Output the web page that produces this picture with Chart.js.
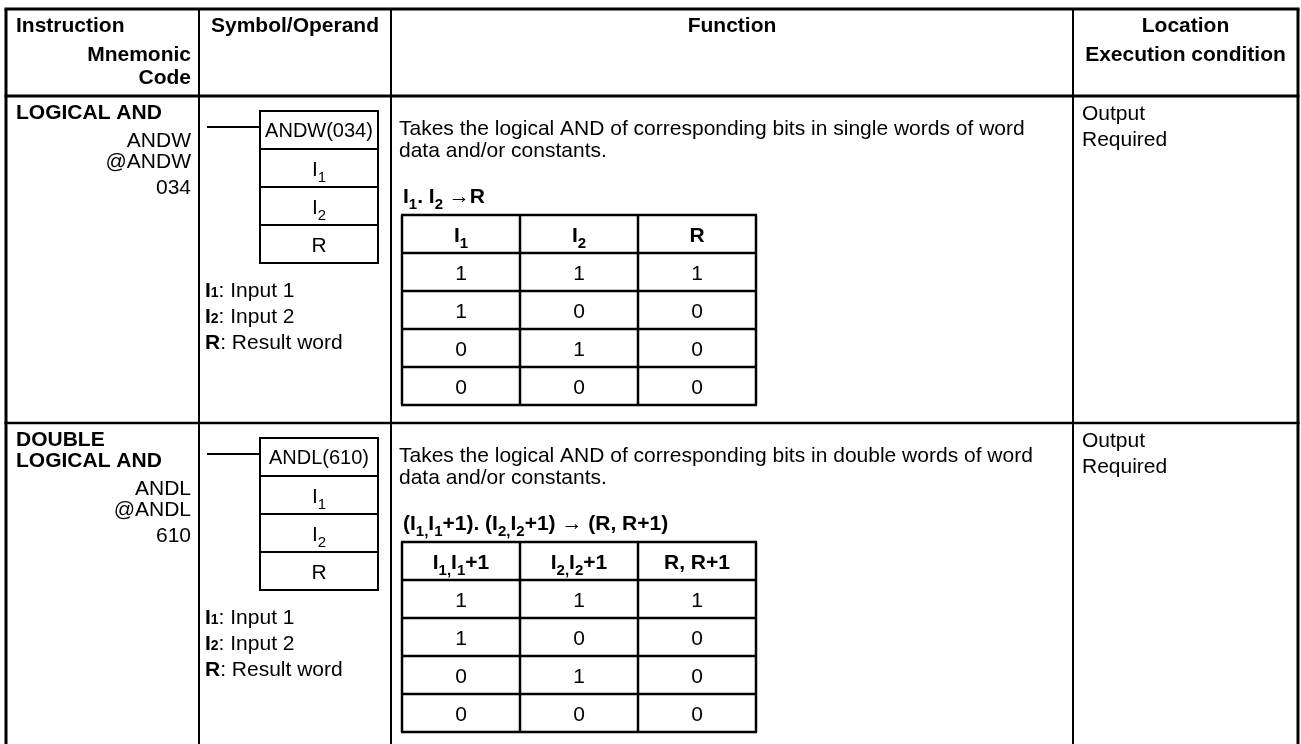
<!DOCTYPE html>
<html>
<head>
<meta charset="utf-8">
<script src="https://cdn.jsdelivr.net/npm/chart.js@4.4.1/dist/chart.umd.min.js"></script>
<style>
  html, body { margin: 0; padding: 0; background: #fff; }
  #wrap { width: 1301px; height: 744px; }
</style>
</head>
<body>
<div id="wrap"><canvas id="table" width="1301" height="744"></canvas></div>
<script>
// header texts
const headInstruction = ["Instruction", "Mnemonic", "Code"];
const headSymbol = "Symbol/Operand";
const headFunction = "Function";
const headLocation = ["Location", "Execution condition"];

// one entry per instruction row
const instrNames = [["LOGICAL AND"], ["DOUBLE", "LOGICAL AND"]];
const mnemonics = [["ANDW", "@ANDW"], ["ANDL", "@ANDL"]];
const codes = ["034", "610"];
const boxLabels = ["ANDW(034)", "ANDL(610)"];
const boxOperands = ["I_{1}", "I_{2}", "R"];
const operandKeys = ["I1", "I2", "R"];
const operandNames = ["Input 1", "Input 2", "Result word"];
const functionText = [
  ["Takes the logical AND of corresponding bits in single words of word", "data and/or constants."],
  ["Takes the logical AND of corresponding bits in double words of word", "data and/or constants."]
];
const formulas = ["I_{1}. I_{2} \u2192R", "(I_{1,}I_{1}+1). (I_{2,}I_{2}+1) \u2192 (R, R+1)"];
const truthHeads = [["I_{1}", "I_{2}", "R"], ["I_{1,}I_{1}+1", "I_{2,}I_{2}+1", "R, R+1"]];
const locations = [["Output", "Required"], ["Output", "Required"]];

// truth table values (AND)
const inputOne = [1, 1, 0, 0];
const inputTwo = [1, 0, 1, 0];
const result = [1, 0, 0, 0];

// layout (in table units, mapped through the chart scales)
const COLS = [6, 199, 391, 1073, 1298];
const TOP = 9, HEAD_BOTTOM = 96, ROW_TOPS = [96, 423], BOTTOM = 744;
const BOX = { left: 260, right: 378, lead: 207, cell: 38 };
const TT = { xs: [402, 520, 638, 756], rowH: 38 };
const FONT = "'Liberation Sans', Arial, Helvetica, sans-serif";
const SIZE = 21, SUB = 15, SMALL = 14;

const parseRich = (str) => {
  const runs = [];
  const re = /_\{([^}]*)\}/g;
  let last = 0, m;
  while ((m = re.exec(str)) !== null) {
    if (m.index > last) runs.push({ t: str.slice(last, m.index), sub: false });
    runs.push({ t: m[1], sub: true });
    last = re.lastIndex;
  }
  if (last < str.length) runs.push({ t: str.slice(last), sub: false });
  return runs;
};

const drawRich = (ctx, str, x, y, align, bold, size) => {
  const w = bold ? "bold " : "";
  const sz = size || SIZE;
  const runs = parseRich(str);
  let total = 0;
  runs.forEach((r) => {
    ctx.font = w + (r.sub ? SUB : sz) + "px " + FONT;
    r.w = ctx.measureText(r.t).width;
    total += r.w;
  });
  let cx = align === "center" ? x - total / 2 : align === "right" ? x - total : x;
  ctx.textAlign = "left";
  runs.forEach((r) => {
    ctx.font = w + (r.sub ? SUB : sz) + "px " + FONT;
    ctx.fillText(r.t, cx, y + (r.sub ? 6 : 0));
    cx += r.w;
  });
};

const tablePlugin = {
  id: "tableDraw",
  afterDraw(chart) {
    const ctx = chart.ctx;
    const X = (v) => chart.scales.x.getPixelForValue(v);
    const Y = (v) => chart.scales.y.getPixelForValue(v);
    const cap = (s) => s * 0.716;

    const line = (x1, y1, x2, y2, lw) => {
      ctx.lineWidth = lw;
      ctx.beginPath();
      ctx.moveTo(X(x1), Y(y1));
      ctx.lineTo(X(x2), Y(y2));
      ctx.stroke();
    };
    const text = (t, x, y, align, bold, size) => {
      ctx.font = (bold ? "bold " : "") + (size || SIZE) + "px " + FONT;
      ctx.textAlign = align;
      ctx.fillText(t, X(x), Y(y));
    };

    ctx.save();
    ctx.strokeStyle = "#000";
    ctx.fillStyle = "#000";
    ctx.textBaseline = "alphabetic";

    // outer grid
    line(COLS[0] - 1.5, TOP, COLS[4] + 1.5, TOP, 3);
    line(COLS[0] - 1.5, HEAD_BOTTOM, COLS[4] + 1.5, HEAD_BOTTOM, 3);
    line(COLS[0] - 1.5, ROW_TOPS[1], COLS[4] + 1.5, ROW_TOPS[1], 2.5);
    line(COLS[0], TOP, COLS[0], BOTTOM, 3);
    line(COLS[4], TOP, COLS[4], BOTTOM, 3);
    [COLS[1], COLS[2], COLS[3]].forEach((c) => line(c, TOP, c, BOTTOM, 2));

    // header
    text(headInstruction[0], 16, 32, "left", true);
    text(headInstruction[1], 191, 61, "right", true);
    text(headInstruction[2], 191, 84, "right", true);
    text(headSymbol, (COLS[1] + COLS[2]) / 2, 32, "center", true);
    text(headFunction, (COLS[2] + COLS[3]) / 2, 32, "center", true);
    text(headLocation[0], (COLS[3] + COLS[4]) / 2, 32, "center", true);
    text(headLocation[1], (COLS[3] + COLS[4]) / 2, 61, "center", true);

    ROW_TOPS.forEach((top, i) => {
      // instruction column
      let b = top + 23;
      instrNames[i].forEach((n, k) => text(n, 16, b + k * 21, "left", true));
      b += (instrNames[i].length - 1) * 21;
      text(mnemonics[i][0], 191, b + 28, "right", false);
      text(mnemonics[i][1], 191, b + 49, "right", false);
      text(codes[i], 191, b + 75, "right", false);

      // ladder symbol
      const bt = top + 15;
      ctx.lineWidth = 2;
      ctx.strokeRect(X(BOX.left), Y(bt), X(BOX.right) - X(BOX.left), Y(bt + 4 * BOX.cell) - Y(bt));
      for (let k = 1; k < 4; k++) line(BOX.left, bt + k * BOX.cell, BOX.right, bt + k * BOX.cell, 2);
      line(BOX.lead, bt + 16, BOX.left, bt + 16, 2);
      const bx = (BOX.left + BOX.right) / 2;
      text(boxLabels[i], bx, bt + BOX.cell / 2 + cap(20) / 2, "center", false, 20);
      boxOperands.forEach((op, k) => {
        drawRich(ctx, op, X(bx), Y(bt + (k + 1.5) * BOX.cell + cap(SIZE) / 2), "center", false);
      });

      // operand legend
      operandKeys.forEach((key, k) => {
        const y = top + 201 + k * 26;
        ctx.textAlign = "left";
        ctx.font = "bold " + SIZE + "px " + FONT;
        let x = X(205);
        ctx.fillText(key[0], x, Y(y));
        x += ctx.measureText(key[0]).width;
        if (key.length > 1) {
          ctx.font = "bold " + SMALL + "px " + FONT;
          ctx.fillText(key.slice(1), x, Y(y));
          x += ctx.measureText(key.slice(1)).width;
        }
        ctx.font = SIZE + "px " + FONT;
        ctx.fillText(": " + operandNames[k], x, Y(y));
      });

      // function text
      functionText[i].forEach((t, k) => text(t, 399, top + 39 + k * 22, "left", false));
      drawRich(ctx, formulas[i], X(403), Y(top + 107), "left", true);

      // truth table
      const tt = top + 119;
      const rows = [truthHeads[i]].concat(inputOne.map((v, r) => [String(v), String(inputTwo[r]), String(result[r])]));
      rows.forEach((row, r) => {
        row.forEach((cell, c) => {
          const cx = (TT.xs[c] + TT.xs[c + 1]) / 2;
          const cy = tt + (r + 0.5) * TT.rowH + cap(SIZE) / 2;
          drawRich(ctx, cell, X(cx), Y(cy), "center", r === 0);
        });
      });
      for (let r = 0; r <= rows.length; r++) line(TT.xs[0] - 1, tt + r * TT.rowH, TT.xs[3] + 1, tt + r * TT.rowH, 2.5);
      TT.xs.forEach((x) => line(x, tt, x, tt + rows.length * TT.rowH, 2.5));

      // location
      locations[i].forEach((t, k) => text(t, 1082, top + 24 + k * 26, "left", false));
    });

    ctx.restore();
  }
};

new Chart(document.getElementById("table"), {
  type: "scatter",
  data: { datasets: [] },
  options: {
    responsive: false,
    animation: false,
    devicePixelRatio: 1,
    events: [],
    layout: { padding: 0 },
    scales: {
      x: { type: "linear", min: 0, max: 1301, display: false },
      y: { type: "linear", min: 0, max: 744, reverse: true, display: false }
    },
    plugins: { legend: { display: false }, tooltip: { enabled: false } }
  },
  plugins: [tablePlugin]
});
</script>
</body>
</html>
